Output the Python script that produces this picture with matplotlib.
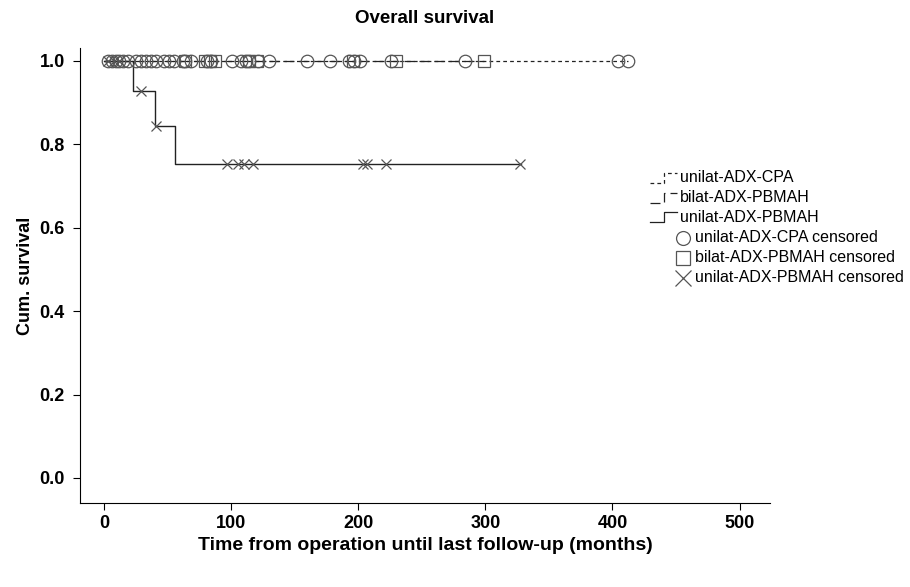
import matplotlib
matplotlib.use('Agg')
import matplotlib.pyplot as plt
from matplotlib.lines import Line2D

plt.rcParams['font.family'] = ['Liberation Sans', 'DejaVu Sans']

# unilat-ADX-CPA: no events, censored times (months)
cpa_censored = [3, 6, 9, 12, 15, 19, 25, 29, 33, 37, 41, 47, 51, 55, 62, 64, 68,
                81, 84, 101, 108, 112, 114, 121, 130, 160, 178, 193, 197, 201,
                226, 284, 404, 412]
cpa_end = 412

# bilat-ADX-PBMAH: no events
bilat_censored = [64, 79, 83, 87, 114, 120, 196, 230, 299]
bilat_end = 299

# unilat-ADX-PBMAH: step curve
pbmah_t = [0, 23, 40, 56, 328]
pbmah_s = [1.0, 0.927, 0.845, 0.754, 0.754]
pbmah_cens_t = [3, 8, 12, 29, 41, 97, 105, 110, 117, 204, 207, 222, 327]
pbmah_cens_s = [1.0, 1.0, 1.0, 0.927, 0.845, 0.754, 0.754, 0.754, 0.754,
                0.754, 0.754, 0.754, 0.754]

labels = ['unilat-ADX-CPA', 'bilat-ADX-PBMAH', 'unilat-ADX-PBMAH',
          'unilat-ADX-CPA censored', 'bilat-ADX-PBMAH censored',
          'unilat-ADX-PBMAH censored']

line_col = '#222222'
mark_col = '#555555'
W, H = 910, 587

fig = plt.figure(figsize=(W / 100, H / 100), dpi=100)
ax = fig.add_axes([80 / W, 1 - 503 / H, 690 / W, 455 / H])

ls_cpa = (0, (3, 2.5))
ls_bilat = (0, (8, 4))
ax.plot([0, cpa_end], [1, 1], color=line_col, lw=0.9, linestyle=ls_cpa)
ax.plot([0, bilat_end], [1, 1], color=line_col, lw=0.9, linestyle=ls_bilat)
ax.step(pbmah_t, pbmah_s, where='post', color=line_col, lw=1.0)

ax.plot(cpa_censored, [1.0] * len(cpa_censored), 'o', ms=9,
        mfc='none', mec=mark_col, mew=0.9)
ax.plot(bilat_censored, [1.0] * len(bilat_censored), 's', ms=9,
        mfc='none', mec=mark_col, mew=0.9)
ax.plot(pbmah_cens_t, pbmah_cens_s, 'x', ms=7, mec=mark_col, mew=0.9)

ax.set_xlim(-19, 524)
ax.set_ylim(-0.06, 1.031)
ax.set_xticks([0, 100, 200, 300, 400, 500])
ax.set_yticks([0.0, 0.2, 0.4, 0.6, 0.8, 1.0])
ax.set_yticklabels(['0.0', '0.2', '0.4', '0.6', '0.8', '1.0'])
for lab in ax.get_xticklabels() + ax.get_yticklabels():
    lab.set_fontweight('bold')
    lab.set_fontsize(13)
ax.spines['top'].set_visible(False)
ax.spines['right'].set_visible(False)
ax.tick_params(direction='out', length=5, width=0.8, pad=4)
ax.tick_params(axis='y', pad=6)

ax.set_xlabel('Time from operation until last follow-up (months)',
              fontsize=14, fontweight='bold', labelpad=3)
ax.set_ylabel('Cum. survival', fontsize=13, fontweight='bold', labelpad=4)
ax.set_title('Overall survival', fontsize=13.5, fontweight='bold', pad=18)

# legend drawn by hand: step glyphs for lines, indented markers for censors
rows = [178, 198, 217, 238, 258, 278]
styles = [ls_cpa, ls_bilat, '-']
for i in range(3):
    y0 = 1 - (rows[i] + 5) / H
    y1 = 1 - (rows[i] - 5) / H
    xa, xm, xb = 650 / W, 664 / W, 677 / W
    fig.add_artist(Line2D([xa, xm, xm, xb], [y0, y0, y1, y1],
                          transform=fig.transFigure, color=line_col, lw=0.9,
                          linestyle=styles[i]))
    fig.text(680 / W, 1 - rows[i] / H, labels[i], fontsize=11.5,
             va='center', ha='left')
markers = [('o', 10), ('s', 10), ('x', 11)]
for j in range(3):
    i = j + 3
    mk, sz = markers[j]
    fig.add_artist(Line2D([683 / W], [1 - rows[i] / H], marker=mk, ms=sz,
                          mfc='none', mec=mark_col, mew=0.9, ls='none',
                          transform=fig.transFigure))
    fig.text(695 / W, 1 - rows[i] / H, labels[i], fontsize=11.5,
             va='center', ha='left')

fig.savefig('out.png', dpi=100)
